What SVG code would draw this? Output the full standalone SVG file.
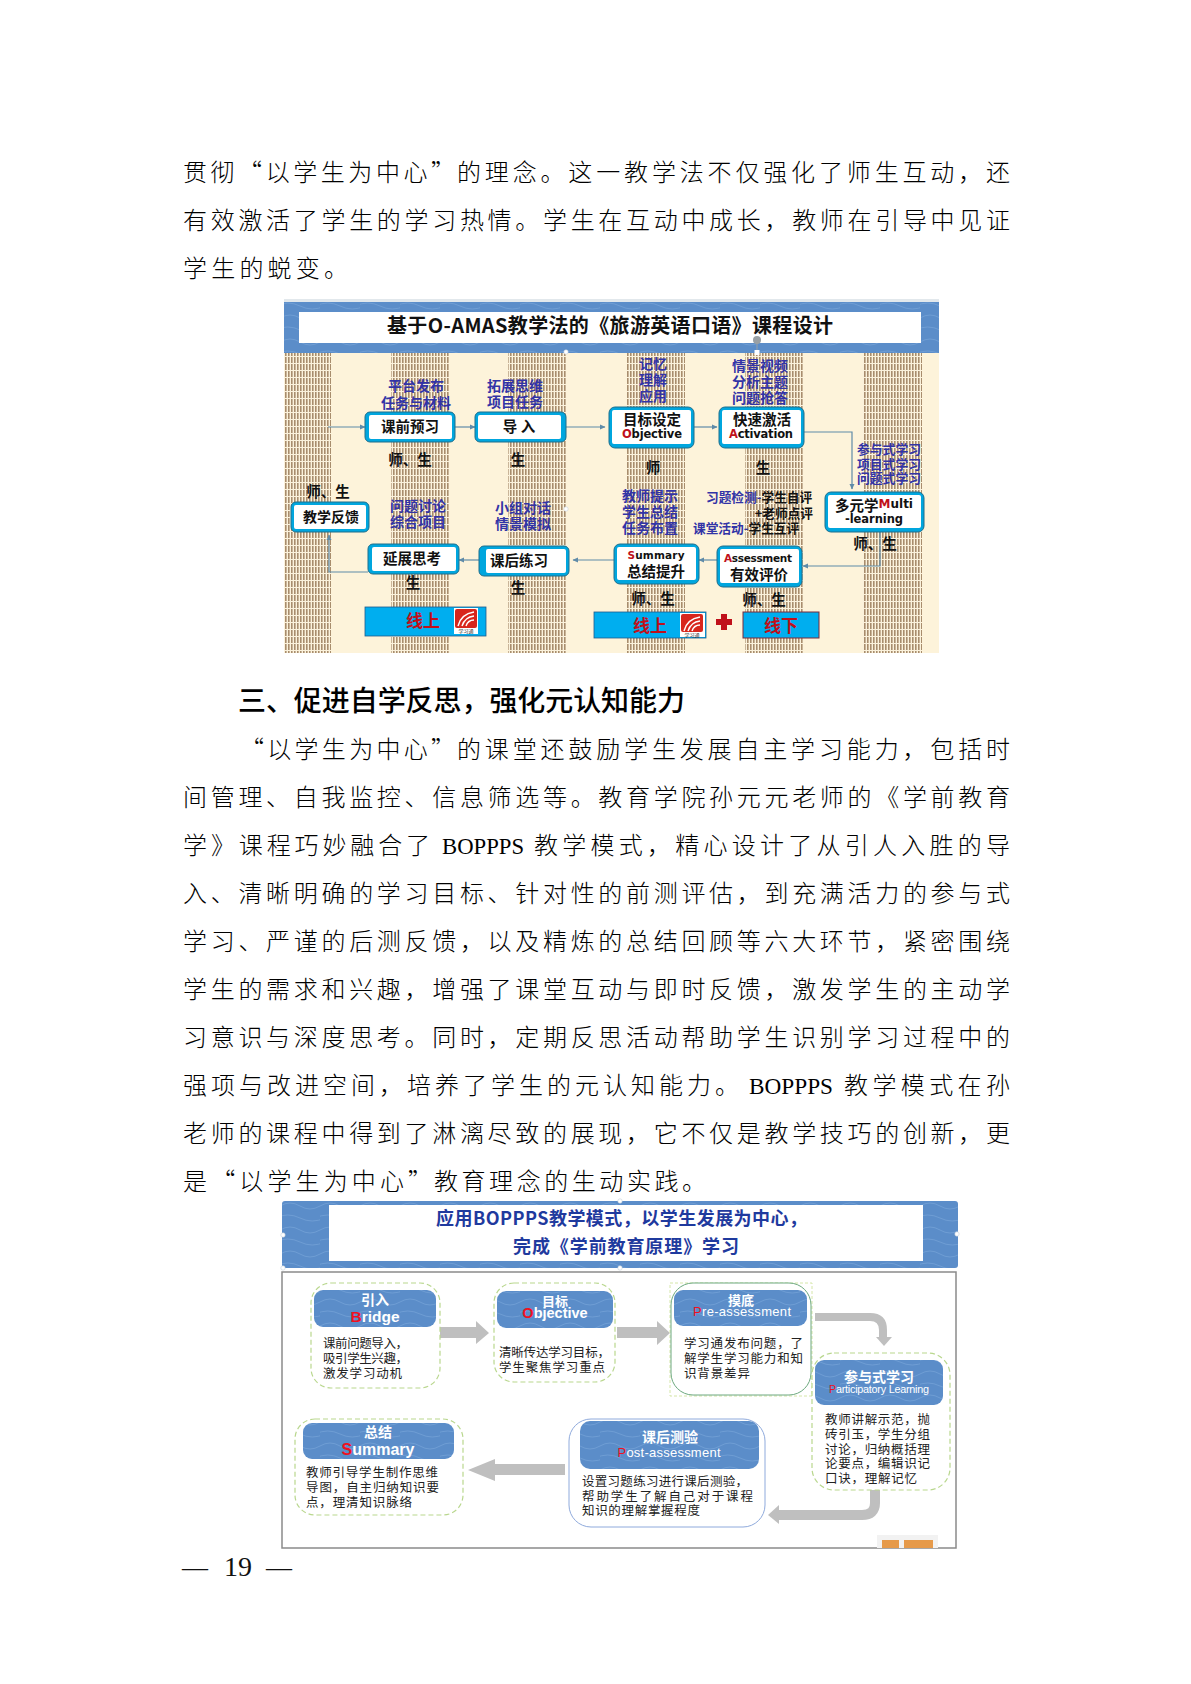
<svg xmlns="http://www.w3.org/2000/svg" width="1191" height="1684" viewBox="0 0 1191 1684" xml:lang="zh-CN">
<style>
text{font-family:"Noto Sans CJK SC","Liberation Sans",sans-serif}
.b{font-size:24px;font-weight:300;fill:#000;transform:translateY(-1px)}
.s{font-family:"Liberation Serif",serif}
.h{font-size:28px;font-weight:500;fill:#000;transform:translateY(-1px)}
.c{dominant-baseline:central;text-anchor:middle;transform:translateY(-1px)}
.l{dominant-baseline:central;transform:translateY(-1px)}
.blue{font-size:14px;font-weight:700;fill:#3233A6}
.blk{font-size:14.5px;font-weight:700;fill:#111}
.who{font-size:14.5px;font-weight:700;fill:#111}
.en{font-family:"DejaVu Sans","Liberation Sans",sans-serif;font-weight:700;font-size:11.5px;fill:#111}
.red{fill:#C0101A}
.r2{fill:#F01020}
.out{fill:#00A6DE;stroke:#1E6E8C;stroke-width:1}
.in{fill:#fff}
.conn{fill:none;stroke:#5F8BA8;stroke-width:1.2}
.bar{fill:#00AEEF;stroke:#7A2A3A;stroke-width:1}
.bar2{fill:#00AEEF;stroke:#1E5A8C;stroke-width:.8}
.band{fill:url(#tx)}
.dash{fill:#fff;stroke:#B9D78E;stroke-width:1.2;stroke-dasharray:5 3}
.card{fill:url(#tx)}
.ct{fill:#fff;font-weight:700;font-size:14px}
.ce{fill:#fff;font-family:"Liberation Sans",sans-serif;font-size:13px}
.d{fill:#222;font-size:12.5px;font-weight:400}
.g{fill:#BFBFBF}
.gs{fill:none;stroke:#BFBFBF}
.dot{fill:#fff;stroke:#C8D2DC;stroke-width:.6}
</style>
<defs>
<pattern id="st" width="3" height="7" patternUnits="userSpaceOnUse"><rect width="3" height="7" fill="#FBF2DC"/><rect width="1.6" height="6" fill="#A88D6D"/></pattern>
<pattern id="tx" width="40" height="24" patternUnits="userSpaceOnUse"><rect width="40" height="24" fill="#5B8DC9"/><path d="M0,6Q10,0 20,6T40,6M-5,18Q8,12 20,18T45,18" fill="none" stroke="#6E9DD4" stroke-width="1"/></pattern>
<marker id="m" markerWidth="6" markerHeight="6" refX="5" refY="3" orient="auto" markerUnits="userSpaceOnUse"><path d="M0,0.5L5.5,3L0,5.5z" fill="#5F8BA8"/></marker>
</defs>
<rect width="1191" height="1684" fill="#fff"/>

<g id="para1">
<text class="b" x="183" y="182" textLength="272">贯彻“以学生为中心”</text>
<text class="b" x="457" y="182" textLength="553">的理念。这一教学法不仅强化了师生互动，还</text>
<text class="b" x="183" y="230" textLength="827">有效激活了学生的学习热情。学生在互动中成长，教师在引导中见证</text>
<text class="b" x="183" y="278" textLength="165">学生的蜕变。</text>
</g>

<g id="diagram1-bg">
<rect x="284" y="299" width="655" height="3" fill="#E2E8EC"/>
<rect x="284" y="353" width="655" height="300" fill="#FDF3DA"/>
<rect x="284" y="353" width="47" height="300" fill="url(#st)"/>
<rect x="391" y="353" width="58" height="300" fill="url(#st)"/>
<rect x="508" y="353" width="58" height="300" fill="url(#st)"/>
<rect x="627" y="353" width="58" height="300" fill="url(#st)"/>
<rect x="745" y="353" width="58" height="300" fill="url(#st)"/>
<rect x="863" y="353" width="59" height="300" fill="url(#st)"/>
<rect class="band" x="284" y="302" width="655" height="51"/>
<rect x="299" y="312" width="622" height="31" fill="#fff"/>
<text x="387" y="325" class="l" style="font-size:20px;font-weight:700;fill:#111" textLength="446">基于O-AMAS教学法的《旅游英语口语》课程设计</text>
<circle cx="757" cy="340" r="4" fill="#9AA0A4"/><path d="M757,344V350" stroke="#9AA0A4"/>
<rect x="754.5" y="350" width="5" height="5" fill="#fff"/>
<circle class="dot" cx="566" cy="352" r="2.2"/>
<circle class="dot" cx="566" cy="509" r="2.2"/>
</g>

<g id="connectors1">
<path class="conn" d="M328,427H365" marker-end="url(#m)"/>
<path class="conn" d="M455,427H475" marker-end="url(#m)"/>
<path class="conn" d="M566,427H605" marker-end="url(#m)"/>
<path class="conn" d="M694,427H717" marker-end="url(#m)"/>
<path class="conn" d="M804,432H852V489" marker-end="url(#m)"/>
<path class="conn" d="M880,532V566H803" marker-end="url(#m)"/>
<path class="conn" d="M717,560H699" marker-end="url(#m)"/>
<path class="conn" d="M614,560H573" marker-end="url(#m)"/>
<path class="conn" d="M479,560H459" marker-end="url(#m)"/>
<path class="conn" d="M368,572H329V535" marker-end="url(#m)"/>
</g>

<g id="n-preview"><rect class="out" x="365" y="412" width="90" height="30" rx="5"/><rect class="in" x="369" y="415" width="83" height="24" rx="2"/><text class="c blk" x="410" y="426">课前预习</text></g>
<g id="n-intro"><rect class="out" x="475" y="412" width="91" height="30" rx="5"/><rect class="in" x="478" y="415" width="83" height="24" rx="2"/><text class="c blk" x="519" y="426">导 入</text></g>
<g id="n-objective"><rect class="out" x="609" y="407" width="85" height="41" rx="6"/><rect class="in" x="612" y="410" width="79" height="34" rx="2"/><text class="c blk" x="652" y="419">目标设定</text><text class="c en" x="652" y="435" textLength="60"><tspan class="red">O</tspan>bjective</text></g>
<g id="n-activation"><rect class="out" x="719" y="407" width="85" height="41" rx="6"/><rect class="in" x="722" y="410" width="79" height="34" rx="2"/><text class="c blk" x="762" y="419">快速激活</text><text class="c en" x="761" y="435" textLength="64"><tspan class="red">A</tspan>ctivation</text></g>
<g id="n-multi"><rect class="out" x="825" y="492" width="99" height="40" rx="6"/><rect class="in" x="828" y="495" width="93" height="33" rx="2"/><text class="c blk" x="874" y="505">多元学<tspan class="en" style="fill:#C0101A;font-size:12px">M</tspan><tspan class="en" style="font-size:12px">ulti</tspan></text><text class="c en" x="874" y="520" textLength="58">-learning</text></g>
<g id="n-assess"><rect class="out" x="717" y="546" width="85" height="41" rx="6"/><rect class="in" x="720" y="549" width="79" height="34" rx="2"/><text class="c en" x="758" y="559" style="font-size:10.5px" textLength="68"><tspan class="red">A</tspan>ssessment</text><text class="c blk" x="759" y="574">有效评价</text></g>
<g id="n-summary"><rect class="out" x="614" y="544" width="85" height="40" rx="6"/><rect class="in" x="617" y="547" width="79" height="33" rx="2"/><text class="c en" x="656" y="556" style="font-size:10.5px" textLength="57"><tspan class="red">S</tspan>ummary</text><text class="c blk" x="656" y="571">总结提升</text></g>
<g id="n-practice"><rect class="out" x="479" y="546" width="90" height="30" rx="5"/><rect class="in" x="486" y="549" width="80" height="24" rx="2"/><text class="c blk" x="519" y="560">课后练习</text></g>
<g id="n-extend"><rect class="out" x="368" y="544" width="91" height="30" rx="5"/><rect class="in" x="372" y="547" width="84" height="24" rx="2"/><text class="c blk" x="412" y="558">延展思考</text></g>
<g id="n-feedback"><rect class="out" x="291" y="502" width="78" height="30" rx="5"/><rect class="in" x="294" y="505" width="72" height="24" rx="2"/><text class="c blk" x="331" y="517" style="font-size:14px">教学反馈</text></g>

<g id="labels1">
<text class="c blue" x="416" y="386">平台发布</text><text class="c blue" x="416" y="403">任务与材料</text>
<text class="c blue" x="515" y="386">拓展思维</text><text class="c blue" x="515" y="402">项目任务</text>
<text class="c blue" x="653" y="364">记忆</text><text class="c blue" x="653" y="380">理解</text><text class="c blue" x="653" y="396">应用</text>
<text class="c blue" x="760" y="366">情景视频</text><text class="c blue" x="760" y="382">分析主题</text><text class="c blue" x="760" y="398">问题抢答</text>
<text class="c blue" x="889" y="449" style="font-size:12.8px">参与式学习</text><text class="c blue" x="889" y="464" style="font-size:12.8px">项目式学习</text><text class="c blue" x="889" y="478" style="font-size:12.8px">问题式学习</text>
<text class="c blue" x="418" y="506">问题讨论</text><text class="c blue" x="418" y="522">综合项目</text>
<text class="c blue" x="523" y="508">小组对话</text><text class="c blue" x="523" y="524">情景模拟</text>
<text class="c blue" x="650" y="496">教师提示</text><text class="c blue" x="650" y="512">学生总结</text><text class="c blue" x="650" y="528">任务布置</text>
<text class="l blue" x="706" y="497" style="font-size:12.7px">习题检测-<tspan style="fill:#111">学生自评</tspan></text>
<text class="l who" x="813" y="513" text-anchor="end" style="font-size:12.7px">+老师点评</text>
<text class="l blue" x="693" y="528" style="font-size:12.7px">课堂活动-<tspan style="fill:#111">学生互评</tspan></text>
<text class="c who" x="410" y="459">师、生</text><text class="c who" x="518" y="459">生</text>
<text class="c who" x="328" y="491">师、生</text>
<text class="c who" x="653" y="467">师</text><text class="c who" x="763" y="467">生</text>
<text class="c who" x="875" y="543">师、生</text>
<text class="c who" x="413" y="582">生</text><text class="c who" x="518" y="587">生</text>
<text class="c who" x="653" y="598">师、生</text><text class="c who" x="764" y="599">师、生</text>
</g>

<g id="online1"><rect class="bar2" x="365" y="607" width="121" height="29"/><text class="c" x="423" y="620" style="font-size:17px;font-weight:700;fill:#C0101A">线上</text>
<rect x="454" y="608" width="24" height="26" fill="#fff"/><rect x="455" y="609" width="22" height="19" rx="2" fill="#D8261C"/><path d="M458,626Q461,614 474,612M462,626Q465,617 474,616M466,626Q468,620 474,620" fill="none" stroke="#fff" stroke-width="1.4"/><text class="c" x="466" y="631.5" style="font-size:5px;fill:#333">学习通</text></g>
<g id="online2"><rect class="bar2" x="594" y="612" width="112" height="26"/><text class="c" x="650" y="625" style="font-size:17px;font-weight:700;fill:#C0101A">线上</text>
<rect x="680" y="613" width="25" height="24" fill="#fff"/><rect x="681" y="614" width="22" height="18" rx="2" fill="#D8261C"/><path d="M684,631Q687,619 700,617M688,631Q691,622 700,621M692,631Q694,625 700,625" fill="none" stroke="#fff" stroke-width="1.4"/><text class="c" x="692" y="635" style="font-size:5px;fill:#333">学习通</text></g>
<g id="plus"><path d="M721,614h6v5h5v6h-5v5h-6v-5h-5v-6h5z" fill="#C0101A"/></g>
<g id="offline"><rect class="bar" x="743" y="612" width="76" height="26"/><text class="c" x="781" y="625" style="font-size:17px;font-weight:700;fill:#C0101A">线下</text></g>

<g id="para2">
<text class="h" x="238" y="712" textLength="447">三、促进自学反思，强化元认知能力</text>
<text class="b" x="240" y="759" textLength="215">“以学生为中心”</text>
<text class="b" x="457" y="759" textLength="553">的课堂还鼓励学生发展自主学习能力，包括时</text>
<text class="b" x="183" y="807" textLength="827">间管理、自我监控、信息筛选等。教育学院孙元元老师的《学前教育</text>
<text class="b" x="183" y="855" textLength="247">学》课程巧妙融合了</text>
<text class="b s" x="442" y="855" textLength="82" lengthAdjust="spacingAndGlyphs">BOPPPS</text>
<text class="b" x="534" y="855" textLength="476">教学模式，精心设计了从引人入胜的导</text>
<text class="b" x="183" y="903" textLength="827">入、清晰明确的学习目标、针对性的前测评估，到充满活力的参与式</text>
<text class="b" x="183" y="951" textLength="827">学习、严谨的后测反馈，以及精炼的总结回顾等六大环节，紧密围绕</text>
<text class="b" x="183" y="999" textLength="827">学生的需求和兴趣，增强了课堂互动与即时反馈，激发学生的主动学</text>
<text class="b" x="183" y="1047" textLength="827">习意识与深度思考。同时，定期反思活动帮助学生识别学习过程中的</text>
<text class="b" x="183" y="1095" textLength="556">强项与改进空间，培养了学生的元认知能力。</text>
<text class="b s" x="749" y="1095" textLength="84" lengthAdjust="spacingAndGlyphs">BOPPPS</text>
<text class="b" x="844" y="1095" textLength="166">教学模式在孙</text>
<text class="b" x="183" y="1143" textLength="827">老师的课程中得到了淋漓尽致的展现，它不仅是教学技巧的创新，更</text>
<text class="b" x="183" y="1191" textLength="249">是“以学生为中心”</text>
<text class="b" x="434" y="1191" textLength="272">教育理念的生动实践。</text>
</g>

<g id="diagram2-bg">
<rect x="282" y="1201" width="676" height="67" rx="3" class="band"/>
<rect x="329" y="1205" width="594" height="56" fill="#fff"/>
<text x="436" y="1218" class="l" style="font-size:18px;font-weight:700;fill:#1F3A9E" textLength="371">应用BOPPPS教学模式，以学生发展为中心，</text>
<text x="513" y="1246" class="l" style="font-size:18px;font-weight:700;fill:#1F3A9E" textLength="226">完成《学前教育原理》学习</text>
<rect x="282" y="1272" width="674" height="276" fill="#fff" stroke="#8A8A8A" stroke-width="1.5"/>
<circle class="dot" cx="283" cy="1235" r="2.2"/><circle class="dot" cx="283" cy="1268" r="2.2"/><circle class="dot" cx="620" cy="1268" r="2.2"/><circle class="dot" cx="620" cy="1201" r="2.2"/><circle class="dot" cx="957" cy="1234" r="2.2"/>
<rect x="877" y="1535" width="61" height="13" fill="#F2F2F2"/><rect x="882" y="1540" width="17" height="8" fill="#E69A4A"/><rect x="904" y="1540" width="29" height="8" fill="#E69A4A"/>
</g>

<g id="connectors2">
<path class="g" d="M437,1327H476V1321L489,1333L476,1344V1338H437z"/>
<path class="g" d="M617,1327H657V1321L670,1333L657,1345V1338H617z"/>
<path class="gs" stroke-width="8" d="M815,1317H870Q883,1317 883,1330V1338"/>
<path class="g" d="M876,1337H892L884,1346z"/>
<path class="gs" stroke-width="10" d="M875,1487V1503Q875,1515 862,1515H778"/>
<path class="g" d="M779,1505V1524L768,1515z"/>
<path class="g" d="M565,1464H495V1459L468,1470L495,1481V1475H565z"/>
</g>

<g id="n-bridge"><rect class="dash" x="311" y="1283" width="129" height="105" rx="20"/><rect class="card" x="314" y="1290" width="122" height="37" rx="9"/>
<text class="c ct" x="375" y="1300">引入</text><text class="c ce" x="375" y="1317" style="font-weight:700;font-size:15.5px"><tspan class="r2">B</tspan>ridge</text>
<text class="l d" x="323" y="1343" textLength="85">课前问题导入，</text><text class="l d" x="323" y="1358" textLength="85">吸引学生兴趣，</text><text class="l d" x="323" y="1373" textLength="79">激发学习动机</text></g>

<g id="n-obj2"><rect class="dash" x="494" y="1283" width="121" height="99" rx="20"/><rect class="card" x="497" y="1291" width="116" height="37" rx="9"/>
<text class="c ct" x="555" y="1301" style="font-size:13px">目标</text><text class="c ce" x="555" y="1314" style="font-weight:700;font-size:14.5px"><tspan class="r2">O</tspan>bjective</text>
<text class="l d" x="499" y="1352" textLength="111">清晰传达学习目标，</text><text class="l d" x="499" y="1367" textLength="106">学生聚焦学习重点</text></g>

<g id="n-pre"><rect x="670" y="1283" width="142" height="113" fill="none" stroke="#D5E6A8" stroke-width="1" stroke-dasharray="3 2"/><rect x="671" y="1283" width="140" height="112" rx="22" fill="#fff" stroke="#6CA87E" stroke-width="1"/><rect class="card" x="674" y="1290" width="133" height="36" rx="9"/>
<text class="c ct" x="741" y="1300" style="font-size:13px">摸底</text><text class="c ce" x="742" y="1312" textLength="98"><tspan class="r2">P</tspan>re-assessment</text>
<text class="l d" x="684" y="1343" textLength="119">学习通发布问题，了</text><text class="l d" x="684" y="1358" textLength="119">解学生学习能力和知</text><text class="l d" x="684" y="1373" textLength="66">识背景差异</text></g>

<g id="n-part"><rect class="dash" x="812" y="1353" width="138" height="137" rx="22"/><rect class="card" x="815" y="1360" width="128" height="45" rx="9"/>
<text class="c ct" x="879" y="1377">参与式学习</text><text class="c ce" x="879" y="1390" style="font-size:10.8px" textLength="100"><tspan class="r2">P</tspan>articipatory Learning</text>
<text class="l d" x="825" y="1419" textLength="105">教师讲解示范，抛</text><text class="l d" x="825" y="1434" textLength="105">砖引玉，学生分组</text><text class="l d" x="825" y="1449" textLength="105">讨论，归纳概括理</text><text class="l d" x="825" y="1463" textLength="105">论要点，编辑识记</text><text class="l d" x="825" y="1478" textLength="92">口诀，理解记忆</text></g>

<g id="n-post"><rect x="569" y="1419" width="196" height="108" rx="22" fill="#fff" stroke="#8FAADC" stroke-width="1"/><rect class="card" x="580" y="1421" width="179" height="48" rx="10"/>
<text class="c ct" x="670" y="1437">课后测验</text><text class="c ce" x="669" y="1453" textLength="103"><tspan class="r2">P</tspan>ost-assessment</text>
<text class="l d" x="582" y="1481" textLength="166">设置习题练习进行课后测验，</text><text class="l d" x="582" y="1496" textLength="171">帮助学生了解自己对于课程</text><text class="l d" x="582" y="1510" textLength="118">知识的理解掌握程度</text></g>

<g id="n-sum"><rect class="dash" x="295" y="1419" width="168" height="96" rx="20"/><rect class="card" x="303" y="1423" width="151" height="36" rx="9"/>
<text class="c ct" x="378" y="1432">总结</text><text class="c ce" x="378" y="1450" style="font-weight:700;font-size:16px"><tspan class="r2">S</tspan>ummary</text>
<text class="l d" x="306" y="1472" textLength="132">教师引导学生制作思维</text><text class="l d" x="306" y="1487" textLength="133">导图，自主归纳知识要</text><text class="l d" x="306" y="1502" textLength="106">点，理清知识脉络</text></g>

<g id="footer"><text x="182" y="1576" style="font-family:'Liberation Serif',serif;font-size:26px;fill:#111">—</text><text x="224" y="1576" style="font-family:'Liberation Serif',serif;font-size:28px;fill:#111">19</text><text x="266" y="1576" style="font-family:'Liberation Serif',serif;font-size:26px;fill:#111">—</text></g>
</svg>
